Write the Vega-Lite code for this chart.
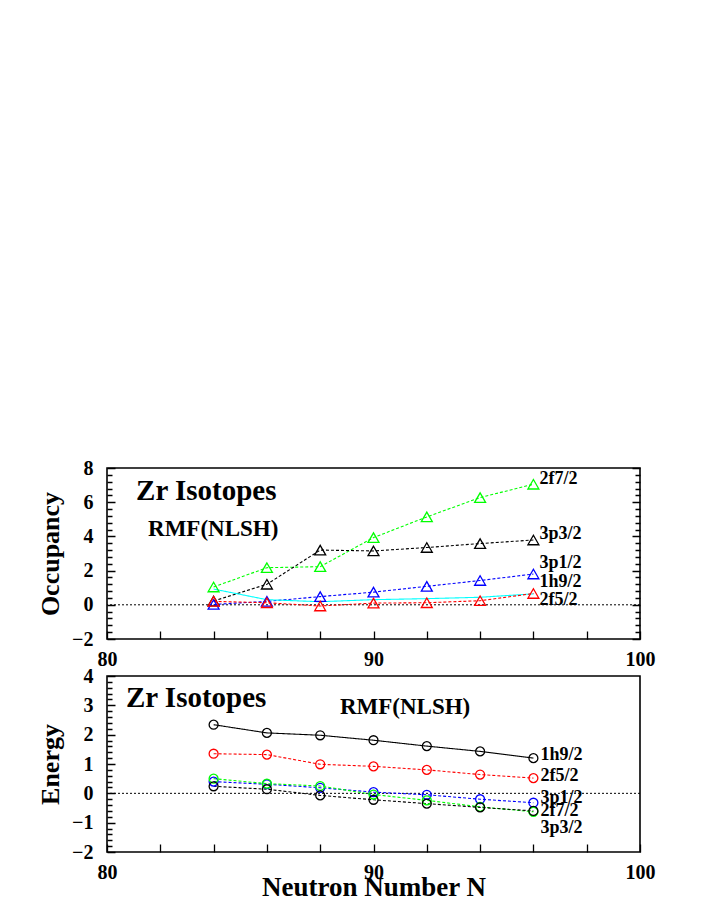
{
  "$schema": "https://vega.github.io/schema/vega-lite/v6.json",
  "background": "white",
  "padding": {"left": 36, "top": 457, "right": 5, "bottom": 5},
  "bounds": "flush",
  "spacing": 37,
  "datasets": {
    "occ": [
      {"N": 84, "level": "2f7/2", "v": 1.04}, {"N": 86, "level": "2f7/2", "v": 2.17}, {"N": 88, "level": "2f7/2", "v": 2.23}, {"N": 90, "level": "2f7/2", "v": 3.93}, {"N": 92, "level": "2f7/2", "v": 5.14}, {"N": 94, "level": "2f7/2", "v": 6.27}, {"N": 96, "level": "2f7/2", "v": 7.05},
      {"N": 84, "level": "3p3/2", "v": 0.22}, {"N": 86, "level": "3p3/2", "v": 1.2}, {"N": 88, "level": "3p3/2", "v": 3.2}, {"N": 90, "level": "3p3/2", "v": 3.15}, {"N": 92, "level": "3p3/2", "v": 3.35}, {"N": 94, "level": "3p3/2", "v": 3.58}, {"N": 96, "level": "3p3/2", "v": 3.79},
      {"N": 84, "level": "3p1/2", "v": 0.02}, {"N": 86, "level": "3p1/2", "v": 0.2}, {"N": 88, "level": "3p1/2", "v": 0.48}, {"N": 90, "level": "3p1/2", "v": 0.74}, {"N": 92, "level": "3p1/2", "v": 1.08}, {"N": 94, "level": "3p1/2", "v": 1.42}, {"N": 96, "level": "3p1/2", "v": 1.8},
      {"N": 84, "level": "1h9/2", "v": 0.92}, {"N": 86, "level": "1h9/2", "v": 0.3}, {"N": 88, "level": "1h9/2", "v": 0.18}, {"N": 90, "level": "1h9/2", "v": 0.3}, {"N": 92, "level": "1h9/2", "v": 0.36}, {"N": 94, "level": "1h9/2", "v": 0.44}, {"N": 96, "level": "1h9/2", "v": 0.64},
      {"N": 84, "level": "2f5/2", "v": 0.2}, {"N": 86, "level": "2f5/2", "v": 0.12}, {"N": 88, "level": "2f5/2", "v": -0.07}, {"N": 90, "level": "2f5/2", "v": 0.1}, {"N": 92, "level": "2f5/2", "v": 0.12}, {"N": 94, "level": "2f5/2", "v": 0.24}, {"N": 96, "level": "2f5/2", "v": 0.66}
    ],
    "occLabels": [
      {"N": 96, "v": 7.34, "label": "2f7/2"},
      {"N": 96, "v": 4.16, "label": "3p3/2"},
      {"N": 96, "v": 2.47, "label": "3p1/2"},
      {"N": 96, "v": 1.33, "label": "1h9/2"},
      {"N": 96, "v": 0.28, "label": "2f5/2"}
    ],
    "en": [
      {"N": 84, "level": "1h9/2", "v": 2.34}, {"N": 86, "level": "1h9/2", "v": 2.06}, {"N": 88, "level": "1h9/2", "v": 1.98}, {"N": 90, "level": "1h9/2", "v": 1.81}, {"N": 92, "level": "1h9/2", "v": 1.61}, {"N": 94, "level": "1h9/2", "v": 1.43}, {"N": 96, "level": "1h9/2", "v": 1.2},
      {"N": 84, "level": "2f5/2", "v": 1.35}, {"N": 86, "level": "2f5/2", "v": 1.32}, {"N": 88, "level": "2f5/2", "v": 0.99}, {"N": 90, "level": "2f5/2", "v": 0.92}, {"N": 92, "level": "2f5/2", "v": 0.8}, {"N": 94, "level": "2f5/2", "v": 0.64}, {"N": 96, "level": "2f5/2", "v": 0.52},
      {"N": 84, "level": "3p1/2", "v": 0.4}, {"N": 86, "level": "3p1/2", "v": 0.31}, {"N": 88, "level": "3p1/2", "v": 0.19}, {"N": 90, "level": "3p1/2", "v": 0.04}, {"N": 92, "level": "3p1/2", "v": -0.05}, {"N": 94, "level": "3p1/2", "v": -0.2}, {"N": 96, "level": "3p1/2", "v": -0.32},
      {"N": 84, "level": "2f7/2", "v": 0.5}, {"N": 86, "level": "2f7/2", "v": 0.33}, {"N": 88, "level": "2f7/2", "v": 0.25}, {"N": 90, "level": "2f7/2", "v": -0.04}, {"N": 92, "level": "2f7/2", "v": -0.24}, {"N": 94, "level": "2f7/2", "v": -0.46}, {"N": 96, "level": "2f7/2", "v": -0.63},
      {"N": 84, "level": "3p3/2", "v": 0.24}, {"N": 86, "level": "3p3/2", "v": 0.14}, {"N": 88, "level": "3p3/2", "v": -0.07}, {"N": 90, "level": "3p3/2", "v": -0.22}, {"N": 92, "level": "3p3/2", "v": -0.35}, {"N": 94, "level": "3p3/2", "v": -0.48}, {"N": 96, "level": "3p3/2", "v": -0.6}
    ],
    "enLabels": [
      {"N": 96, "v": 1.3, "label": "1h9/2"},
      {"N": 96, "v": 0.58, "label": "2f5/2"},
      {"N": 96, "v": -0.15, "label": "3p1/2"},
      {"N": 96, "v": -0.6, "label": "2f7/2"},
      {"N": 96, "v": -1.17, "label": "3p3/2"}
    ],
    "occNotes": [
      {"N": 81.09, "v": 6.15, "text": "Zr Isotopes", "kind": "big"},
      {"N": 81.54, "v": 4.02, "text": "RMF(NLSH)", "kind": "small"}
    ],
    "enNotes": [
      {"N": 80.71, "v": 2.95, "text": "Zr Isotopes", "kind": "big"},
      {"N": 88.74, "v": 2.7, "text": "RMF(NLSH)", "kind": "small"}
    ]
  },
  "vconcat": [
    {
      "width": 533,
      "height": 171,
      "resolve": {"axis": {"y": "independent"}},
      "layer": [
        {
          "data": {"values": [{"z": 0}]},
          "mark": {"type": "rule", "color": "black", "strokeWidth": 1, "strokeDash": [2, 2]},
          "encoding": {
            "y": {"field": "z", "type": "quantitative", "scale": {"domain": [-2, 8], "nice": false, "zero": false}, "axis": null}
          }
        },
        {
          "data": {"name": "occ"},
          "mark": {"type": "line", "strokeWidth": 1.1},
          "encoding": {
            "x": {"field": "N", "type": "quantitative", "scale": {"domain": [80, 100], "nice": false, "zero": false},
              "axis": {"title": null, "values": [80, 82, 84, 86, 88, 90, 92, 94, 96, 98, 100], "labelExpr": "datum.value % 10 == 0 ? format(datum.value, 'd') : ''", "tickSize": -8, "labelPadding": 18, "labelFlush": false, "labelOverlap": false}},
            "y": {"field": "v", "type": "quantitative", "scale": {"domain": [-2, 8], "nice": false, "zero": false},
              "axis": {"orient": "left", "title": "Occupancy", "titlePadding": 8, "values": [-2, 0, 2, 4, 6, 8], "format": "d", "zindex": 2,
                "ticks": true, "tickSize": -8, "tickWidth": 1.5, "tickColor": "black", "tickOpacity": 1, "labelPadding": 22, "labelFlush": false, "labelOverlap": false}},
            "color": {"field": "level", "type": "nominal", "legend": null,
              "scale": {"domain": ["2f7/2", "3p3/2", "3p1/2", "1h9/2", "2f5/2"], "range": ["#00ff00", "#000000", "#0000ff", "#00ffff", "#ff0000"]}},
            "strokeDash": {"field": "level", "type": "nominal", "legend": null,
              "scale": {"domain": ["2f7/2", "3p3/2", "3p1/2", "1h9/2", "2f5/2"], "range": [[3, 2], [3, 2], [3, 2], [1, 0], [3, 2]]}}
          }
        },
        {
          "data": {"name": "occ"},
          "transform": [{"filter": "datum.level != '1h9/2'"}],
          "mark": {"type": "point", "shape": "triangle-up", "filled": false, "size": 120, "strokeWidth": 1.3, "opacity": 1},
          "encoding": {
            "x": {"field": "N", "type": "quantitative"},
            "y": {"field": "v", "type": "quantitative", "axis": {"orient": "left", "title": null, "labels": false, "zindex": 2, "ticks": true, "tickSize": -5, "tickWidth": 1.5, "tickColor": "black", "tickOpacity": 1,
              "values": [-1.6, -1.2, -0.8, -0.4, 0.4, 0.8, 1.2, 1.6, 2.4, 2.8, 3.2, 3.6, 4.4, 4.8, 5.2, 5.6, 6.4, 6.8, 7.2, 7.6]}},
            "color": {"field": "level", "type": "nominal", "legend": null}
          }
        },
        {
          "data": {"name": "occLabels"},
          "mark": {"type": "text", "align": "left", "baseline": "middle", "dx": 6, "font": "Liberation Serif", "fontWeight": "bold", "fontSize": 18, "color": "black"},
          "encoding": {
            "x": {"field": "N", "type": "quantitative"},
            "y": {"field": "v", "type": "quantitative", "axis": {"orient": "right", "title": null, "labels": false, "zindex": 2, "ticks": true, "tickSize": -5, "tickWidth": 1.5, "tickColor": "black", "tickOpacity": 1,
              "values": [-1.6, -1.2, -0.8, -0.4, 0.4, 0.8, 1.2, 1.6, 2.4, 2.8, 3.2, 3.6, 4.4, 4.8, 5.2, 5.6, 6.4, 6.8, 7.2, 7.6]}},
            "text": {"field": "label"}
          }
        },
        {
          "data": {"name": "occNotes"},
          "mark": {"type": "text", "align": "left", "baseline": "alphabetic", "font": "Liberation Serif", "fontWeight": "bold", "color": "black"},
          "encoding": {
            "x": {"field": "N", "type": "quantitative"},
            "y": {"field": "v", "type": "quantitative", "axis": {"orient": "right", "title": null, "labels": false, "zindex": 2, "ticks": true, "tickSize": -8, "tickWidth": 1.5, "tickColor": "black", "tickOpacity": 1,
              "values": [-2, 0, 2, 4, 6, 8]}},
            "text": {"field": "text"},
            "size": {"field": "kind", "type": "nominal", "legend": null, "scale": {"domain": ["big", "small"], "range": [29, 23]}}
          }
        }
      ]
    },
    {
      "width": 533,
      "height": 176,
      "resolve": {"axis": {"y": "independent"}},
      "layer": [
        {
          "data": {"values": [{"z": 0}]},
          "mark": {"type": "rule", "color": "black", "strokeWidth": 1, "strokeDash": [2, 2]},
          "encoding": {
            "y": {"field": "z", "type": "quantitative", "scale": {"domain": [-2, 4], "nice": false, "zero": false}, "axis": null}
          }
        },
        {
          "data": {"name": "en"},
          "mark": {"type": "line", "strokeWidth": 1.1},
          "encoding": {
            "x": {"field": "N", "type": "quantitative", "scale": {"domain": [80, 100], "nice": false, "zero": false},
              "axis": {"title": "Neutron Number N", "titlePadding": -8, "values": [80, 82, 84, 86, 88, 90, 92, 94, 96, 98, 100], "labelExpr": "datum.value % 10 == 0 ? format(datum.value, 'd') : ''", "tickSize": -8, "labelPadding": 18, "labelFlush": false, "labelOverlap": false}},
            "y": {"field": "v", "type": "quantitative", "scale": {"domain": [-2, 4], "nice": false, "zero": false},
              "axis": {"orient": "left", "title": "Energy", "titlePadding": 8, "values": [-2, -1, 0, 1, 2, 3, 4], "format": "d", "zindex": 2,
                "ticks": true, "tickSize": -8, "tickWidth": 1.5, "tickColor": "black", "tickOpacity": 1, "labelPadding": 22, "labelFlush": false, "labelOverlap": false}},
            "color": {"field": "level", "type": "nominal", "legend": null,
              "scale": {"domain": ["1h9/2", "2f5/2", "3p1/2", "2f7/2", "3p3/2"], "range": ["#000000", "#ff0000", "#0000ff", "#00ff00", "#000000"]}},
            "strokeDash": {"field": "level", "type": "nominal", "legend": null,
              "scale": {"domain": ["1h9/2", "2f5/2", "3p1/2", "2f7/2", "3p3/2"], "range": [[1, 0], [3, 2], [3, 2], [3, 2], [3, 2]]}}
          }
        },
        {
          "data": {"name": "en"},
          "mark": {"type": "point", "shape": "circle", "filled": false, "size": 80, "strokeWidth": 1.3, "opacity": 1},
          "encoding": {
            "x": {"field": "N", "type": "quantitative"},
            "y": {"field": "v", "type": "quantitative", "axis": {"orient": "left", "title": null, "labels": false, "zindex": 2, "ticks": true, "tickSize": -5, "tickWidth": 1.5, "tickColor": "black", "tickOpacity": 1,
              "values": [-1.8, -1.6, -1.4, -1.2, -0.8, -0.6, -0.4, -0.2, 0.2, 0.4, 0.6, 0.8, 1.2, 1.4, 1.6, 1.8, 2.2, 2.4, 2.6, 2.8, 3.2, 3.4, 3.6, 3.8]}},
            "color": {"field": "level", "type": "nominal", "legend": null}
          }
        },
        {
          "data": {"name": "enLabels"},
          "mark": {"type": "text", "align": "left", "baseline": "middle", "dx": 7, "font": "Liberation Serif", "fontWeight": "bold", "fontSize": 18, "color": "black"},
          "encoding": {
            "x": {"field": "N", "type": "quantitative"},
            "y": {"field": "v", "type": "quantitative", "axis": null},
            "text": {"field": "label"}
          }
        },
        {
          "data": {"name": "enNotes"},
          "mark": {"type": "text", "align": "left", "baseline": "alphabetic", "font": "Liberation Serif", "fontWeight": "bold", "color": "black"},
          "encoding": {
            "x": {"field": "N", "type": "quantitative"},
            "y": {"field": "v", "type": "quantitative", "axis": null},
            "text": {"field": "text"},
            "size": {"field": "kind", "type": "nominal", "legend": null, "scale": {"domain": ["big", "small"], "range": [29, 23]}}
          }
        }
      ]
    }
  ],
  "resolve": {"scale": {"color": "independent", "strokeDash": "independent", "size": "independent"}},
  "config": {
    "view": {"stroke": "black", "strokeWidth": 1.6},
    "axis": {
      "domain": false,
      "grid": false,
      "tickColor": "black",
      "tickWidth": 1.3,
      "labelFont": "Liberation Serif",
      "labelFontWeight": "bold",
      "labelFontSize": 20,
      "labelColor": "black",
      "titleFont": "Liberation Serif",
      "titleFontWeight": "bold",
      "titleFontSize": 26,
      "titleColor": "black",
      "labelOverlap": false
    },
    "axisY": {"ticks": true, "tickColor": "black", "tickWidth": 1.5},
    "axisX": {"titleFontSize": 27}
  }
}
